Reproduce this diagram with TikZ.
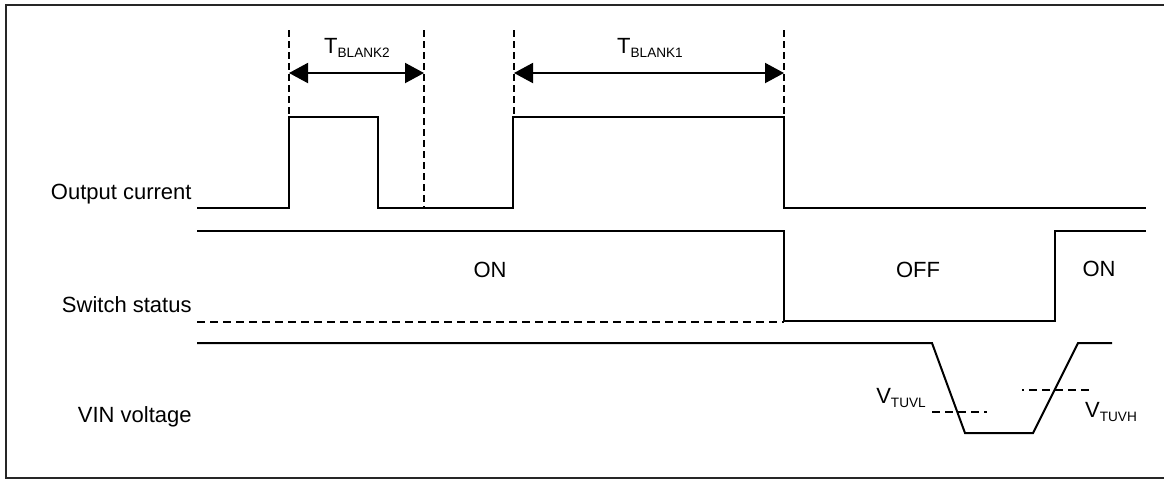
\documentclass[tikz,border=0pt]{standalone}
\usepackage{fontspec}
\setmainfont{Liberation Sans}
\usetikzlibrary{arrows.meta}
\newcommand\mysub[1]{\raisebox{-2pt}{\fontsize{6.8}{7}\selectfont #1}}
\begin{document}
\begin{tikzpicture}[x=0.5pt,y=-0.5pt,
  every node/.style={inner sep=0pt,font=\fontsize{11}{13}\selectfont},
  wave/.style={line width=1pt,line join=miter},
  guide/.style={line width=1pt,dash pattern=on 3.5pt off 2pt},
  hdash/.style={line width=1pt,dash pattern=on 4pt off 2.5pt},
  span/.style={line width=1pt,{Triangle[length=9.5pt,width=10pt]}-{Triangle[length=9.5pt,width=10pt]}},
  frame/.style={line width=1pt,draw=black!85}]
\useasboundingbox (0,0) rectangle (1164,479);
% frame (open on the right)
\draw[frame] (1164,5) -- (6,5) -- (6,478) -- (1164,478);
% row labels
\node[anchor=base east] (lout) at (192,199) {Output current};
\node[anchor=base east] (lsw) at (192,312) {Switch status};
\node[anchor=base east] (lvin) at (192,422) {VIN voltage};
% output current waveform
\draw[wave] (197,208) -- (289,208) -- (289,117) -- (378,117) -- (378,208)
  -- (513,208) -- (513,117) -- (784,117) -- (784,208) -- (1146,208);
% guide lines
\coordinate (g1t) at (289,30); \coordinate (g1b) at (289,117);
\coordinate (g2t) at (424,30); \coordinate (g2b) at (424,208);
\coordinate (g3t) at (514,30); \coordinate (g3b) at (514,117);
\coordinate (g4t) at (784,30); \coordinate (g4b) at (784,117);
\draw[guide] (g1t) -- (g1b);
\draw[guide] (g2t) -- (g2b);
\draw[guide] (g3t) -- (g3b);
\draw[guide] (g4t) -- (g4b);
% span arrows
\coordinate (a2l) at (289,73); \coordinate (a2r) at (424,73);
\coordinate (a1l) at (514,73); \coordinate (a1r) at (784,73);
\draw[span] (a2l) -- (a2r);
\draw[span] (a1l) -- (a1r);
\node[anchor=base] (tb2) at (357,53) {T\mysub{BLANK2}};
\node[anchor=base] (tb1) at (650,53) {T\mysub{BLANK1}};
% switch status waveform
\draw[wave] (197,231) -- (784,231) -- (784,321) -- (1055,321) -- (1055,231) -- (1146,231);
\draw[hdash] (197,322) -- (784,322);
\node[anchor=base] (on1) at (490,277) {ON};
\node[anchor=base] (off) at (918,277) {OFF};
\node[anchor=base] (on2) at (1099,276) {ON};
% VIN voltage waveform
\draw[wave] (197,343) -- (932,343) -- (965,433) -- (1033,433) -- (1078,343) -- (1112,343);
\draw[hdash] (932,412) -- (987,412);
\draw[hdash,dash phase=3pt] (1022,390) -- (1090,390);
\node[anchor=base] (vl) at (901,403) {V\mysub{TUVL}};
\node[anchor=base] (vh) at (1111,417) {V\mysub{TUVH}};
\end{tikzpicture}
\end{document}
